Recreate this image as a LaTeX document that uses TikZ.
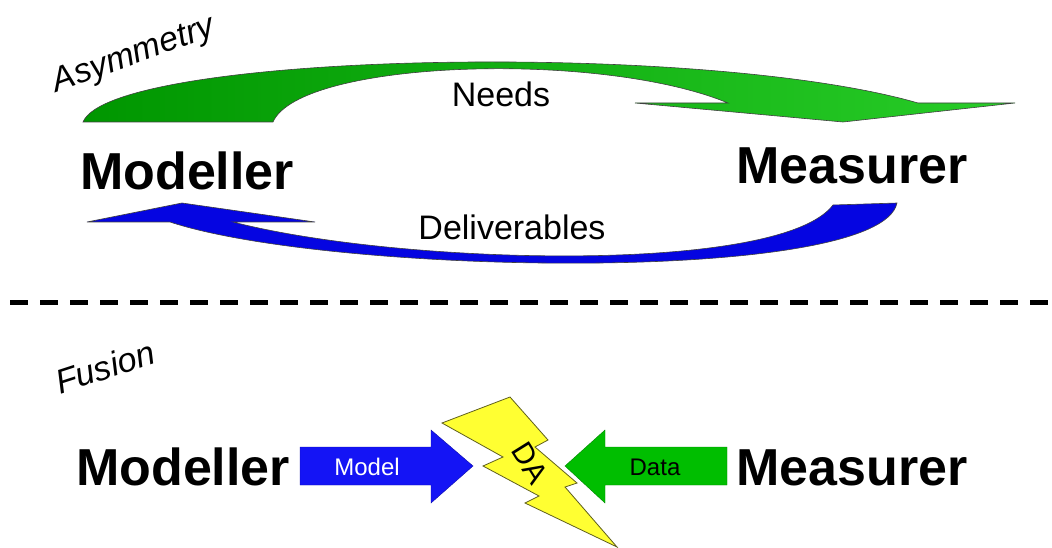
\documentclass[tikz,border=0pt]{standalone}
\usepackage{fontspec}
\setmainfont{Liberation Sans}
\usepackage{tikz}
\usetikzlibrary{calc, positioning}

\definecolor{needsL}{RGB}{0,150,0}
\definecolor{needsR}{RGB}{40,205,40}
\definecolor{delivBlue}{RGB}{5,5,225}
\definecolor{modelBlue}{RGB}{20,20,245}
\definecolor{dataGreen}{RGB}{0,190,0}
\definecolor{boltYellow}{RGB}{255,255,50}
\definecolor{boltEdge}{RGB}{95,95,30}

\tikzset{
  bigname/.style={font=\bfseries\fontsize{52}{56}\selectfont, inner sep=0pt, anchor=base west},
  tag/.style={font=\fontsize{34}{38}\selectfont, inner sep=0pt, anchor=base},
  heading/.style={font=\itshape\fontsize{34}{38}\selectfont, inner sep=0pt},
  flowtag/.style={font=\fontsize{24}{28}\selectfont, inner sep=0pt, anchor=base},
}

\begin{document}
\begin{tikzpicture}[x=1pt, y=-1pt]
    \useasboundingbox (0,0) rectangle (1052,548);

    % === Asymmetry ===
    \node[heading, rotate=20] (asym) at (134,56) {Asymmetry};

    % green curved arrow (Needs)
    \shadedraw[left color=needsL, right color=needsR, draw=black!75, line width=0.6pt]
    (83,122) % outer foot
    .. controls (112,52) and (700,40) .. (918,103)
    -- (1015,103) -- (843,122) -- (635,103) -- (728,103) % head
    .. controls (600,50) and (300,60) .. (273,122) % inner edge
    -- cycle;

    % blue curved arrow (Deliverables)
    \filldraw[fill=delivBlue, draw=black!75, line width=0.6pt]
    (87,222) -- (182,203) -- (315,222) -- (233,222) % head
    .. controls (400,265) and (780,275) .. (833,205) % inner edge
    -- (897,203)
    .. controls (880,285) and (330,275) .. (170,222) % outer edge
    -- cycle;

    \node[tag] (needs) at (501,107) {Needs};
    \node[tag] (deliv) at (512,240) {Deliverables};

    \node[bigname] (modTop) at (80,190) {Modeller};
    \node[bigname] (measTop) at (736,184) {Measurer};

    % separator
    \draw[line width=5pt, dash pattern=on 18pt off 12pt] (10,302) -- (1052,302);

    % === Fusion ===
    \node[heading, rotate=18] (fusion) at (105,367) {Fusion};

    \node[bigname] (modBot) at (76,485) {Modeller};
    \node[bigname] (measBot) at (736,485) {Measurer};

    % model and data arrows
    \filldraw[fill=modelBlue, draw=modelBlue!70!black, line width=0.4pt]
    (300,447) -- (431,447) -- (431,430) -- (473,466) -- (431,503) -- (431,485) -- (300,485) -- cycle;
    \filldraw[fill=dataGreen, draw=dataGreen!70!black, line width=0.4pt]
    (727,447) -- (605,447) -- (605,430) -- (565,466) -- (605,503) -- (605,485) -- (727,485) -- cycle;

    \node[flowtag, text=white] (model) at (367,475) {Model};
    \node[flowtag] (data) at (655,475) {Data};

    % lightning bolt
    \filldraw[fill=boltYellow, draw=boltEdge, line width=0.8pt]
    (442,423) -- (510,397) -- (548,440) -- (535,447) -- (577,483) -- (565,487)
    -- (617,547) -- (525,503) -- (539,496) -- (483,466) -- (503,457) -- cycle;

    \node[font=\fontsize{30}{32}\selectfont, rotate=-58, inner sep=0pt] (da) at (530,463) {DA};
\end{tikzpicture}
\end{document}
